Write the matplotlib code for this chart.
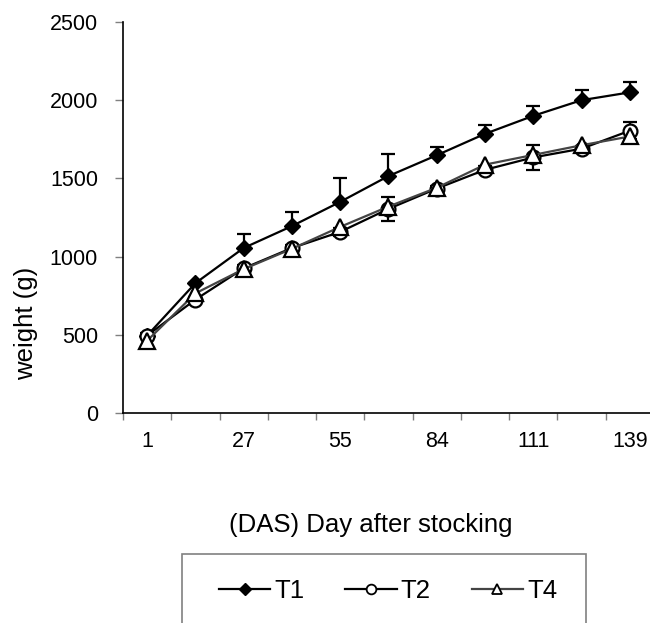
import numpy as np
import matplotlib
matplotlib.use("Agg")
import matplotlib.pyplot as plt
from matplotlib.lines import Line2D
from matplotlib.patches import Rectangle

plt.rcParams["font.family"] = ["Liberation Sans", "DejaVu Sans"]

# days after stocking (categories); only every other one is labelled
days = [1, 14, 27, 41, 55, 69, 84, 97, 111, 125, 139]
day_labels = ["1", "27", "55", "84", "111", "139"]

t1 = [495, 830, 1055, 1195, 1350, 1515, 1648, 1785, 1900, 2000, 2050]
t1_err = [0, 0, 88, 92, 155, 143, 50, 55, 60, 63, 66]
t2 = [495, 725, 925, 1055, 1158, 1305, 1435, 1555, 1634, 1690, 1805]
t2_err = [15, 15, 20, 22, 25, 77, 18, 22, 80, 20, 55]
t4 = [462, 765, 920, 1050, 1190, 1320, 1440, 1588, 1650, 1712, 1768]

x = np.arange(len(days))

fig = plt.figure(figsize=(6.5, 6.23), dpi=100)
ax = fig.add_axes([0.1892, 0.3371, 0.8169, 0.6276])

ax.errorbar(x, t1, yerr=[np.zeros(len(t1)), t1_err], color="black", lw=1.6,
            marker="D", ms=8, mfc="black", mec="black", capsize=5, capthick=1.6,
            elinewidth=1.6, zorder=3)
ax.errorbar(x, t2, yerr=t2_err, color="black", lw=1.6,
            marker="o", ms=10, mfc="white", mec="black", mew=1.6, capsize=5,
            capthick=1.6, elinewidth=1.6, zorder=4)
ax.plot(x, t4, color="#444444", lw=1.6, marker="^", ms=11, mfc="white",
        mec="black", mew=1.6, zorder=5)

ax.set_xlim(-0.5, len(days) - 0.5)
ax.set_ylim(0, 2500)
ax.set_yticks(range(0, 2501, 500))
ax.tick_params(axis="y", direction="out", length=6, width=1, color="#808080",
               pad=12, labelsize=15.5)

ax.set_xticks(x[::2])
ax.set_xticklabels(day_labels)
ax.set_xticks(np.arange(-0.5, len(days)), minor=True)
ax.tick_params(axis="x", which="major", length=0, pad=13, labelsize=15.5)
ax.tick_params(axis="x", which="minor", direction="out", length=5, width=1,
               color="#808080")

for side in ["top", "right"]:
    ax.spines[side].set_visible(False)
for side in ["left", "bottom"]:
    ax.spines[side].set_linewidth(1.2)
    ax.spines[side].set_color("black")

fig.text(26 / 650, 0.4815, "weight (g)", rotation=90, ha="center", va="center",
         fontsize=18.5)
fig.text(0.571, 0.157, "(DAS) Day after stocking", ha="center", va="center",
         fontsize=18.5)

handles = [
    Line2D([], [], color="black", lw=1.6, marker="D", ms=6, mfc="black", mec="black"),
    Line2D([], [], color="black", lw=1.6, marker="o", ms=7, mfc="white", mec="black", mew=1.3),
    Line2D([], [], color="#444444", lw=1.6, marker="^", ms=7, mfc="white", mec="black", mew=1.3),
]
fig.legend(handles, ["T1", "T2", "T4"], loc="center",
           bbox_to_anchor=(388 / 650, 32 / 623), ncol=3, frameon=False,
           fontsize=18.5, handlelength=2.0, handletextpad=0.15, columnspacing=1.6)

fig.patches.append(Rectangle((182 / 650, -0.05), 404 / 650, (623 - 554) / 623 + 0.05,
                             transform=fig.transFigure, fill=False,
                             edgecolor="#808080", lw=1.2))

fig.savefig("out.png", dpi=100)
